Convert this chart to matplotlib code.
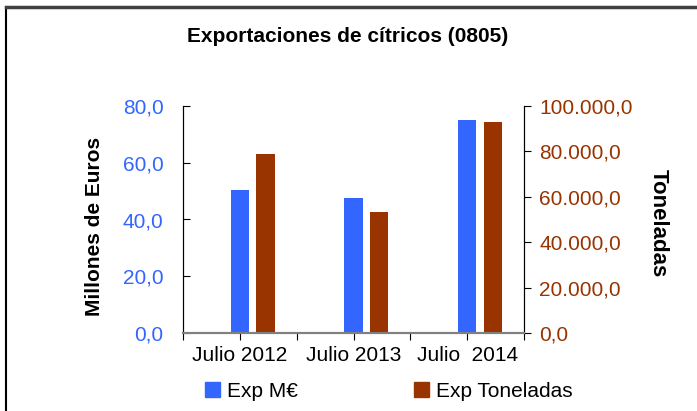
import matplotlib
matplotlib.use("Agg")
import matplotlib.pyplot as plt
import numpy as np
from matplotlib.lines import Line2D
from matplotlib.patches import Patch

plt.rcParams["font.family"] = ["Liberation Sans", "DejaVu Sans"]

# Data
categories = ["Julio 2012", "Julio 2013", "Julio  2014"]
exp_meur = [50.4, 47.6, 75.0]
exp_toneladas = [78850.0, 53440.0, 92860.0]

BLUE = "#3366FF"
BROWN = "#993300"
W, H = 697, 411

fig = plt.figure(figsize=(W / 100, H / 100), dpi=100)
ax = fig.add_axes([183 / W, 1 - 333 / H, (524 - 183) / W, (333 - 106) / H])
ax2 = ax.twinx()

pos = np.arange(len(categories)) * 2 + 1
ax.bar(pos, exp_meur, width=0.32, color=BLUE, zorder=2)
ax2.bar(pos + 0.45, exp_toneladas, width=0.32, color=BROWN, zorder=2)

ax.set_xlim(0, 6)
ax.set_ylim(0, 80)
ax2.set_ylim(0, 100000)
ax.set_yticks(np.arange(0, 81, 20))
ax.set_yticklabels([f"{v:.1f}".replace(".", ",") for v in np.arange(0, 81, 20)])
ax2.set_yticks(np.arange(0, 100001, 20000))
ax2.set_yticklabels([f"{v:,.1f}".replace(",", "X").replace(".", ",").replace("X", ".")
                     for v in np.arange(0, 100001, 20000)])

xt = list(range(7))
xl = [""] * 7
for p, c in zip(pos, categories):
    xl[p] = c
ax.set_xticks(xt)
ax.set_xticklabels(xl, fontsize=15)

ax.tick_params(axis="y", direction="in", length=5, colors="black", labelcolor=BLUE,
               labelsize=15, pad=14)
ax2.tick_params(axis="y", direction="out", length=5, colors="black", labelcolor=BROWN,
                labelsize=15, pad=6)
ax.tick_params(axis="x", direction="out", length=5, pad=4)

for a in (ax, ax2):
    a.spines["top"].set_visible(False)
    a.spines["bottom"].set_color("#808080")
    a.spines["bottom"].set_linewidth(1.5)

fig.text(95 / W, 1 - 226 / H, "Millones de Euros", rotation=90, ha="center", va="center",
         fontsize=15, fontweight="bold")
fig.text(658 / W, 1 - 223 / H, "Toneladas", rotation=-90, ha="center", va="center",
         fontsize=16, fontweight="bold")

fig.text(348 / W, 1 - 37 / H, "Exportaciones de cítricos (0805)", ha="center", va="center",
         fontsize=15, fontweight="bold")

handles = [Patch(color=BLUE, label="Exp M€"), Patch(color=BROWN, label="Exp Toneladas")]
fig.legend(handles=handles, loc="center", bbox_to_anchor=(389 / W, 1 - 391 / H), ncol=2,
           frameon=False, fontsize=15, handlelength=0.7, handleheight=0.7,
           handletextpad=0.34, columnspacing=5.6, borderpad=0.2)

# chart frame (only top and left edges are visible in the crop)
fig.add_artist(Line2D([6 / W, 6 / W], [0, 1 - 7 / H], color="black", lw=1.5))
fig.add_artist(Line2D([6 / W, 1], [1 - 7.5 / H, 1 - 7.5 / H], color="#404040", lw=2.5))

fig.savefig("out.png", dpi=100)
